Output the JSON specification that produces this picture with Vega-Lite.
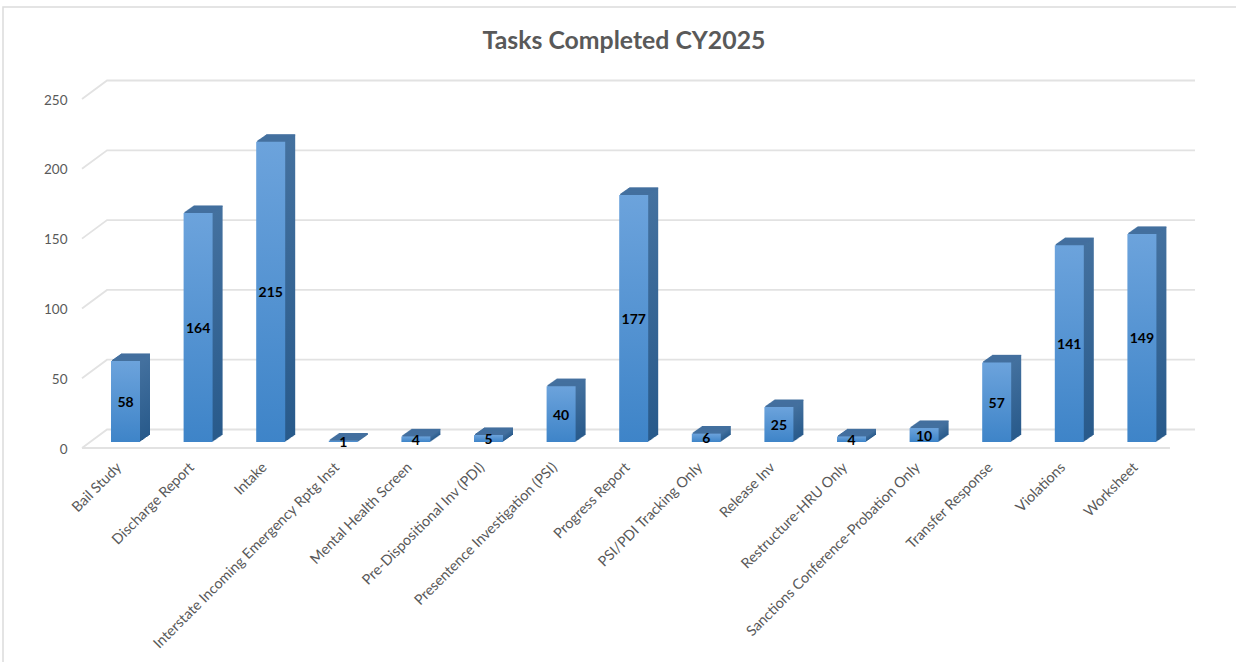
{
"$schema":"https://vega.github.io/schema/vega-lite/v6.json",
"autosize":"none",
"padding":{"left":3,"top":7,"right":-7,"bottom":-5},
"width":1240,"height":660,
"background":"white",
"view":{"stroke":"#dcdcdc","strokeWidth":1.5,"fill":"white"},
"title":{"text":"Tasks Completed CY2025","anchor":"middle","frame":"group","offset":-47,"dx":1,"fontSize":24.8,"font":"Lato","fontWeight":"bold","color":"#595959"},
"datasets":{
"tasks":[
{"task":"Bail Study","count":58},{"task":"Discharge Report","count":164},{"task":"Intake","count":215},{"task":"Interstate Incoming Emergency Rptg Inst","count":1},{"task":"Mental Health Screen","count":4},{"task":"Pre-Dispositional Inv (PDI)","count":5},{"task":"Presentence Investigation (PSI)","count":40},{"task":"Progress Report","count":177},{"task":"PSI/PDI Tracking Only","count":6},{"task":"Release Inv","count":25},{"task":"Restructure-HRU Only","count":4},{"task":"Sanctions Conference-Probation Only","count":10},{"task":"Transfer Response","count":57},{"task":"Violations","count":141},{"task":"Worksheet","count":149}],
"wall":[
{"tick":0,"u":0,"v":-4.3},{"tick":0,"u":0.0225,"v":8.95},{"tick":0,"u":1,"v":8.95},
{"tick":50,"u":0,"v":45.7},{"tick":50,"u":0.0225,"v":58.95},{"tick":50,"u":1,"v":58.95},
{"tick":100,"u":0,"v":95.7},{"tick":100,"u":0.0225,"v":108.95},{"tick":100,"u":1,"v":108.95},
{"tick":150,"u":0,"v":145.7},{"tick":150,"u":0.0225,"v":158.95},{"tick":150,"u":1,"v":158.95},
{"tick":200,"u":0,"v":195.7},{"tick":200,"u":0.0225,"v":208.95},{"tick":200,"u":1,"v":208.95},
{"tick":250,"u":0,"v":245.7},{"tick":250,"u":0.0225,"v":258.95},{"tick":250,"u":1,"v":258.95},
{"tick":-1,"u":0,"v":-4.3},{"tick":-1,"u":0.9775,"v":-4.3}]
},
"data":{"name":"tasks"},
"encoding":{
"x":{"field":"task","type":"nominal","sort":null,"axis":null,"scale":{"range":[86.2,1175.2],"paddingInner":0,"paddingOuter":0}},
"y":{"field":"count","type":"quantitative","axis":null,"scale":{"domain":[0,250],"range":[435,86],"nice":false,"zero":false}}
},
"layer":[
{"data":{"name":"wall"},"mark":{"type":"line","stroke":"#e2e2e2","strokeWidth":1.8,"clip":false},
"encoding":{"x":{"field":"u","type":"quantitative","axis":null,"scale":{"domain":[0,1],"range":[79,1192],"nice":false,"zero":false}},
"y":{"field":"v","type":"quantitative","axis":null,"scale":{"domain":[0,250],"range":[435,86],"nice":false,"zero":false}},
"detail":{"field":"tick"},"order":{"field":"u"}}},

{"mark":{"type":"bar","width":29,"xOffset":10,"yOffset":-7,"y2Offset":-7,"fill":{"x1":0,"y1":0,"x2":0,"y2":1,"gradient":"linear","stops":[{"offset":0,"color":"#44719f"},{"offset":1,"color":"#285a8b"}]}}},
{"mark":{"type":"tick","size":29,"thickness":1.2,"xOffset":10,"yOffset":-7,"color":"#44709f","opacity":1}},
{"mark":{"type":"bar","width":29,"xOffset":9,"yOffset":-6.3,"y2Offset":-6.3,"fill":{"x1":0,"y1":0,"x2":0,"y2":1,"gradient":"linear","stops":[{"offset":0,"color":"#44719f"},{"offset":1,"color":"#285a8b"}]}}},
{"mark":{"type":"tick","size":29,"thickness":1.2,"xOffset":9,"yOffset":-6.3,"color":"#44709f","opacity":1}},
{"mark":{"type":"bar","width":29,"xOffset":8,"yOffset":-5.6,"y2Offset":-5.6,"fill":{"x1":0,"y1":0,"x2":0,"y2":1,"gradient":"linear","stops":[{"offset":0,"color":"#44719f"},{"offset":1,"color":"#285a8b"}]}}},
{"mark":{"type":"tick","size":29,"thickness":1.2,"xOffset":8,"yOffset":-5.6,"color":"#44709f","opacity":1}},
{"mark":{"type":"bar","width":29,"xOffset":7,"yOffset":-4.9,"y2Offset":-4.9,"fill":{"x1":0,"y1":0,"x2":0,"y2":1,"gradient":"linear","stops":[{"offset":0,"color":"#44719f"},{"offset":1,"color":"#285a8b"}]}}},
{"mark":{"type":"tick","size":29,"thickness":1.2,"xOffset":7,"yOffset":-4.9,"color":"#44709f","opacity":1}},
{"mark":{"type":"bar","width":29,"xOffset":6,"yOffset":-4.2,"y2Offset":-4.2,"fill":{"x1":0,"y1":0,"x2":0,"y2":1,"gradient":"linear","stops":[{"offset":0,"color":"#44719f"},{"offset":1,"color":"#285a8b"}]}}},
{"mark":{"type":"tick","size":29,"thickness":1.2,"xOffset":6,"yOffset":-4.2,"color":"#44709f","opacity":1}},
{"mark":{"type":"bar","width":29,"xOffset":5,"yOffset":-3.5,"y2Offset":-3.5,"fill":{"x1":0,"y1":0,"x2":0,"y2":1,"gradient":"linear","stops":[{"offset":0,"color":"#44719f"},{"offset":1,"color":"#285a8b"}]}}},
{"mark":{"type":"tick","size":29,"thickness":1.2,"xOffset":5,"yOffset":-3.5,"color":"#44709f","opacity":1}},
{"mark":{"type":"bar","width":29,"xOffset":4,"yOffset":-2.8,"y2Offset":-2.8,"fill":{"x1":0,"y1":0,"x2":0,"y2":1,"gradient":"linear","stops":[{"offset":0,"color":"#44719f"},{"offset":1,"color":"#285a8b"}]}}},
{"mark":{"type":"tick","size":29,"thickness":1.2,"xOffset":4,"yOffset":-2.8,"color":"#44709f","opacity":1}},
{"mark":{"type":"bar","width":29,"xOffset":3,"yOffset":-2.1,"y2Offset":-2.1,"fill":{"x1":0,"y1":0,"x2":0,"y2":1,"gradient":"linear","stops":[{"offset":0,"color":"#44719f"},{"offset":1,"color":"#285a8b"}]}}},
{"mark":{"type":"tick","size":29,"thickness":1.2,"xOffset":3,"yOffset":-2.1,"color":"#44709f","opacity":1}},
{"mark":{"type":"bar","width":29,"xOffset":2,"yOffset":-1.4,"y2Offset":-1.4,"fill":{"x1":0,"y1":0,"x2":0,"y2":1,"gradient":"linear","stops":[{"offset":0,"color":"#44719f"},{"offset":1,"color":"#285a8b"}]}}},
{"mark":{"type":"tick","size":29,"thickness":1.2,"xOffset":2,"yOffset":-1.4,"color":"#44709f","opacity":1}},
{"mark":{"type":"bar","width":29,"xOffset":1,"yOffset":-0.7,"y2Offset":-0.7,"fill":{"x1":0,"y1":0,"x2":0,"y2":1,"gradient":"linear","stops":[{"offset":0,"color":"#44719f"},{"offset":1,"color":"#285a8b"}]}}},
{"mark":{"type":"tick","size":29,"thickness":1.2,"xOffset":1,"yOffset":-0.7,"color":"#44709f","opacity":1}},

{"mark":{"type":"bar","width":29,"fill":{"x1":0,"y1":0,"x2":0,"y2":1,"gradient":"linear","stops":[{"offset":0,"color":"#6ca3dc"},{"offset":1,"color":"#3e84c8"}]}},
"encoding":{
"x":{"field":"task","type":"nominal","sort":null,"title":null,
"axis":{"orient":"bottom","offset":-202,"domain":false,"ticks":false,"labelAngle":-45,"labelAlign":"right","labelBaseline":"middle","labelPadding":0,"labelOffset":-6,"labelOverlap":false,"labelLimit":500,"labelBound":false,"labelFlush":false,"labelFont":"Lato","labelFontSize":14.4,"labelColor":"#595959","grid":false},
"scale":{"range":[86.2,1175.2],"paddingInner":0,"paddingOuter":0}},
"y":{"field":"count","type":"quantitative","title":null,
"axis":{"orient":"left","offset":-64,"domain":false,"ticks":false,"grid":false,"values":[0,50,100,150,200,250],"labelPadding":0,"labelOffset":7,"labelFont":"Lato","labelFontSize":13.5,"labelColor":"#595959"},
"scale":{"domain":[0,250],"range":[435,86],"nice":false,"zero":false}}}},

{"mark":{"type":"text","font":"Lato","fontWeight":"bold","fontSize":14,"color":"black","baseline":"middle","align":"center"},
"encoding":{
"y":{"field":"count","type":"quantitative","axis":null,"scale":{"domain":[0,500],"range":[436.5,87.5],"nice":false,"zero":false}},
"text":{"field":"count","type":"quantitative"}}}
],
"resolve":{"scale":{"x":"independent","y":"independent"},"axis":{"x":"independent","y":"independent"}}
}
